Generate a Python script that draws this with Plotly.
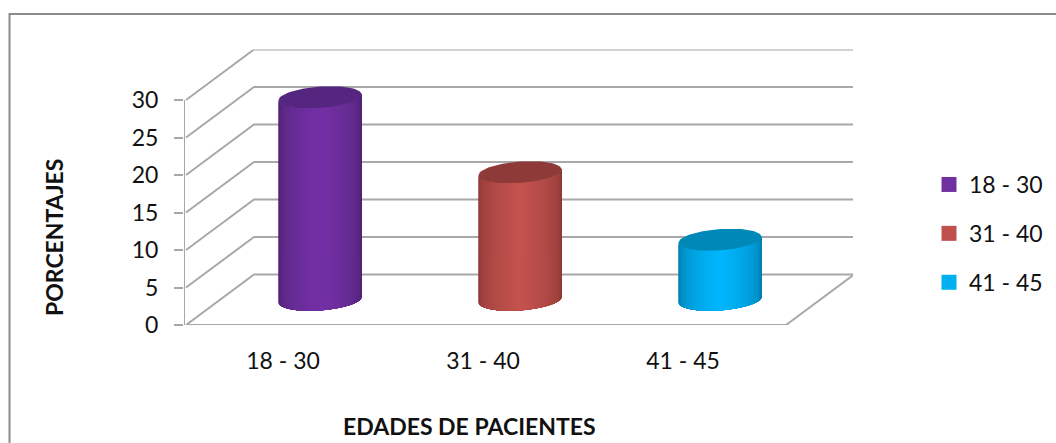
import math
import plotly.graph_objects as go

# Chart content
categories = ["18 - 30", "31 - 40", "41 - 45"]
percentages = [27, 17, 8]
y_ticks = [0, 5, 10, 15, 20, 25, 30]
x_title = "EDADES DE PACIENTES"
y_title = "PORCENTAJES"

# Cylinder shades: side edge, side centre, top cap, legend swatch
edge_colors = [(66, 30, 100), (122, 48, 46), (0, 104, 145)]
mid_colors = [(116, 48, 166), (196, 82, 78), (0, 184, 255)]
cap_colors = ["#55267F", "#8E3A38", "#0088B8"]
swatch_colors = ["#7030A0", "#C0504D", "#00B0F0"]

WIDTH, HEIGHT = 1056, 443
GRID = "#A8A8A8"
TEXT = "#111111"
FONT = "Lato"
FONT_SIZE = 23

# Plot area in pixels, and the oblique depth of the 3D box in axis units
LEFT, RIGHT, TOP, BOTTOM = 184, 853, 49.5, 325
PX_PER_CAT, PX_PER_UNIT = 200, 7.5
DEPTH_X = 68 / PX_PER_CAT
DEPTH_Y = 50.5 / PX_PER_UNIT
X_START = -2 / PX_PER_CAT
Y_MAX = max(y_ticks) + DEPTH_Y

# Cylinder base ellipse: half width, skew of the long axis, half height
RADIUS_X = 40 / PX_PER_CAT
SKEW_X = 11 / PX_PER_CAT
RADIUS_Y = 11 / PX_PER_UNIT
STRIPS = 48


def project(cat, depth, value):
    return cat + depth * DEPTH_X, value + depth * DEPTH_Y


def rim(index, angle, value):
    cx, cy = project(index + 0.5, 0.5, value)
    return (cx + RADIUS_X * math.cos(angle) + SKEW_X * math.sin(angle),
            cy + RADIUS_Y * math.sin(angle))


def poly(points, color):
    xs, ys = zip(*points)
    return go.Scatter(x=list(xs) + [xs[0]], y=list(ys) + [ys[0]], mode="lines",
                      fill="toself", fillcolor=color, line=dict(width=0),
                      hoverinfo="skip", showlegend=False, cliponaxis=False)


def wire(xs, ys, width=2, color=GRID):
    return go.Scatter(x=xs, y=ys, mode="lines", line=dict(color=color, width=width),
                      hoverinfo="skip", showlegend=False, cliponaxis=False)


fig = go.Figure()

# Wall gridlines, floor outline and the value axis line
n = len(categories)
for v in y_ticks:
    bx, by = project(0, 1, v)
    ex, ey = project(n, 1, v)
    fig.add_trace(wire([0, bx, ex], [v, by, ey]))
fx, fy = project(n, 1, 0)
fig.add_trace(wire([0, n, fx], [0, 0, fy]))
fig.add_trace(wire([X_START, X_START], [0, max(y_ticks)]))

# Shaded cylinders, painted left to right so neighbouring strips leave no seam
t_right = math.atan2(SKEW_X, RADIUS_X)
for i, value in enumerate(percentages):
    arc = [t_right - math.pi + math.pi * k / STRIPS for k in range(STRIPS + 1)]
    for k in range(STRIPS):
        remaining = arc[k:]
        pos = (k + 0.5) / STRIPS
        glow = (1 - abs(2 * pos - 1.0)) ** 0.55
        color = tuple(round(e + (m - e) * glow)
                      for e, m in zip(edge_colors[i], mid_colors[i]))
        outline = [rim(i, t, 0) for t in remaining] + \
                  [rim(i, t, value) for t in reversed(remaining)]
        fig.add_trace(poly(outline, "rgb(%d,%d,%d)" % color))
    cap = [rim(i, 2 * math.pi * k / 72, value) for k in range(72)]
    fig.add_trace(poly(cap, cap_colors[i]))

# Legend entries
for i, name in enumerate(categories):
    fig.add_trace(go.Scatter(x=[None], y=[None], mode="markers", name=name,
                             legendgroup=name,
                             marker=dict(symbol="square", size=15, color=swatch_colors[i])))

fig.update_layout(
    width=WIDTH, height=HEIGHT, autosize=False,
    margin=dict(l=0, r=0, t=0, b=0, autoexpand=False),
    paper_bgcolor="white", plot_bgcolor="white",
    font=dict(family=FONT, size=FONT_SIZE, color=TEXT),
    xaxis=dict(domain=[LEFT / WIDTH, RIGHT / WIDTH],
               range=[X_START, X_START + (RIGHT - LEFT) / PX_PER_CAT],
               tickmode="array", tickvals=[i + 0.485 for i in range(n)], ticktext=categories,
               ticks="", showgrid=False, zeroline=False, showline=False,
               ticklabelstandoff=20, automargin=False),
    yaxis=dict(domain=[(HEIGHT - BOTTOM) / HEIGHT, (HEIGHT - TOP) / HEIGHT],
               range=[0, Y_MAX], tickmode="array", tickvals=y_ticks,
               ticks="outside", ticklen=9, tickwidth=2, tickcolor=GRID,
               showgrid=False, zeroline=False, showline=False,
               ticklabelstandoff=11, automargin=False),
    legend=dict(x=929 / WIDTH, y=(HEIGHT - 163) / HEIGHT, xanchor="left", yanchor="top",
                tracegroupgap=16, bgcolor="rgba(0,0,0,0)", font=dict(size=FONT_SIZE)),
    annotations=[
        dict(text="<b>%s</b>" % x_title, x=469 / WIDTH, y=(HEIGHT - 426) / HEIGHT,
             xref="paper", yref="paper", showarrow=False,
             xanchor="center", yanchor="middle"),
        dict(text="<b>%s</b>" % y_title, x=54 / WIDTH, y=(HEIGHT - 238) / HEIGHT,
             xref="paper", yref="paper", showarrow=False, textangle=-90,
             xanchor="center", yanchor="middle"),
    ],
    shapes=[dict(type="path", xref="paper", yref="paper",
                 path="M %f,-0.05 L %f,%f L 1.05,%f" % (9.5 / WIDTH, 9.5 / WIDTH,
                                                        (HEIGHT - 14) / HEIGHT, (HEIGHT - 14) / HEIGHT),
                 line=dict(color="#8C8C8C", width=2))],
)

fig.write_html("out.html")
